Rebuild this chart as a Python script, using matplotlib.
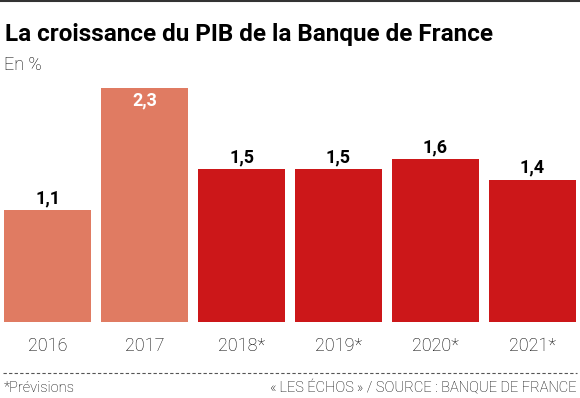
import matplotlib
matplotlib.use("Agg")
import matplotlib.pyplot as plt
from matplotlib.lines import Line2D

# Data
years = ["2016", "2017", "2018*", "2019*", "2020*", "2021*"]
growth = [1.1, 2.3, 1.5, 1.5, 1.6, 1.4]
labels = ["1,1", "2,3", "1,5", "1,5", "1,6", "1,4"]
is_forecast = [False, False, True, True, True, True]

LIGHT = "#E07B62"
RED = "#CC1719"

plt.rcParams['font.family'] = ['Roboto', 'DejaVu Sans']

W, H = 580, 398
fig = plt.figure(figsize=(W / 100, H / 100), dpi=100)

# Bars area: baseline at y=322px, top of tallest bar at y=88px
ax = fig.add_axes([4 / W, 1 - 322 / H, 572 / W, (322 - 88) / H])
x = range(len(years))
colors = [RED if f else LIGHT for f in is_forecast]
ax.bar(x, growth, width=0.9, color=colors)
ax.set_xlim(-0.45, 5.45)
ax.set_ylim(0, max(growth))
ax.axis("off")

for i, (v, lab) in enumerate(zip(growth, labels)):
    if v == max(growth):
        ax.text(i, v - 0.035, lab, ha="center", va="top", color="white",
                fontsize=13, fontweight="bold")
    else:
        ax.text(i, v + 0.03, lab, ha="center", va="bottom", color="black",
                fontsize=13, fontweight="bold")
    ax.text(i, -0.235, years[i], ha="center", va="center", color="black",
            fontsize=13, fontweight="light")

# Title and subtitle
fig.text(5 / W, 1 - 34 / H, "La croissance du PIB de la Banque de France",
         fontsize=17.5, fontweight="bold", va="center", ha="left")
fig.text(4 / W, 1 - 65 / H, "En %", fontsize=13, fontweight="light",
         va="center", ha="left", color="black")

# Top rule and dashed separator
fig.add_artist(Line2D([0, 1], [1 - 0.8 / H, 1 - 0.8 / H], color="#333333",
                      lw=1.5, transform=fig.transFigure))
fig.add_artist(Line2D([3 / W, 577 / W], [1 - 373 / H, 1 - 373 / H],
                      color="#555555", lw=0.8, ls=(0, (3, 2)),
                      transform=fig.transFigure))

# Footer
fig.text(4 / W, 1 - 388 / H, "*Prévisions", fontsize=10.5, fontweight="light",
         va="center", ha="left", color="black")
fig.text(577 / W, 1 - 388 / H, "«\u2009LES ÉCHOS\u2009» / SOURCE : BANQUE DE FRANCE",
         fontsize=10.5, fontweight="light", va="center", ha="right", color="black")

fig.savefig("out.png", dpi=100)
